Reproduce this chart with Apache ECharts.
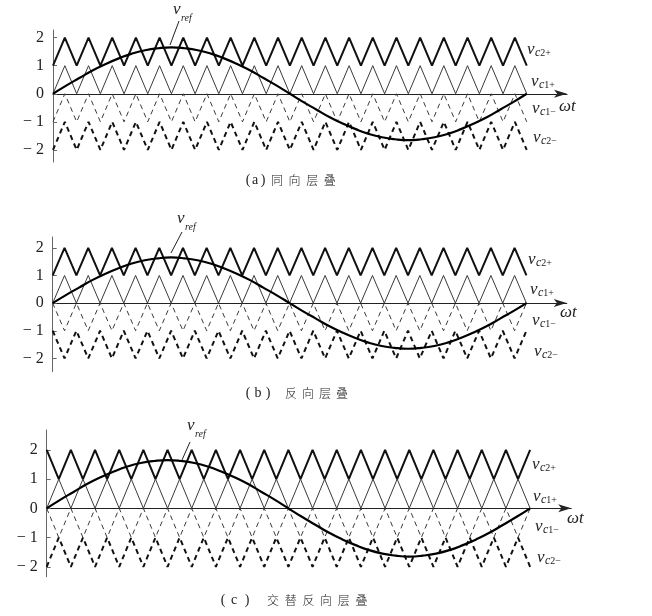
<!DOCTYPE html>
<html>
<head>
<meta charset="utf-8">
<script src="https://cdn.jsdelivr.net/npm/echarts@6/dist/echarts.min.js"></script>
<style>
  html, body { margin: 0; padding: 0; background: #fff; }
  #chart { width: 652px; height: 616px; }
</style>
</head>
<body>
<div id="chart"></div>
<script>
// carrier vertices, one value per half carrier period (20 periods -> 41 points)
const tri12 = [1, 2, 1, 2, 1, 2, 1, 2, 1, 2, 1, 2, 1, 2, 1, 2, 1, 2, 1, 2,
  1, 2, 1, 2, 1, 2, 1, 2, 1, 2, 1, 2, 1, 2, 1, 2, 1, 2, 1, 2, 1]
const tri21 = [2, 1, 2, 1, 2, 1, 2, 1, 2, 1, 2, 1, 2, 1, 2, 1, 2, 1, 2, 1,
  2, 1, 2, 1, 2, 1, 2, 1, 2, 1, 2, 1, 2, 1, 2, 1, 2, 1, 2, 1, 2]
const tri01 = [0, 1, 0, 1, 0, 1, 0, 1, 0, 1, 0, 1, 0, 1, 0, 1, 0, 1, 0, 1,
  0, 1, 0, 1, 0, 1, 0, 1, 0, 1, 0, 1, 0, 1, 0, 1, 0, 1, 0, 1, 0]
const triN10 = [-1, 0, -1, 0, -1, 0, -1, 0, -1, 0, -1, 0, -1, 0, -1, 0, -1, 0, -1, 0,
  -1, 0, -1, 0, -1, 0, -1, 0, -1, 0, -1, 0, -1, 0, -1, 0, -1, 0, -1, 0, -1]
const tri0N1 = [0, -1, 0, -1, 0, -1, 0, -1, 0, -1, 0, -1, 0, -1, 0, -1, 0, -1, 0, -1,
  0, -1, 0, -1, 0, -1, 0, -1, 0, -1, 0, -1, 0, -1, 0, -1, 0, -1, 0, -1, 0]
const triN2N1 = [-2, -1, -2, -1, -2, -1, -2, -1, -2, -1, -2, -1, -2, -1, -2, -1, -2, -1, -2, -1,
  -2, -1, -2, -1, -2, -1, -2, -1, -2, -1, -2, -1, -2, -1, -2, -1, -2, -1, -2, -1, -2]
const triN1N2 = [-1, -2, -1, -2, -1, -2, -1, -2, -1, -2, -1, -2, -1, -2, -1, -2, -1, -2, -1, -2,
  -1, -2, -1, -2, -1, -2, -1, -2, -1, -2, -1, -2, -1, -2, -1, -2, -1, -2, -1, -2, -1]

// reference wave, read every 10 degrees over one fundamental period
const vref = [0, 0.29, 0.56, 0.83, 1.06, 1.26, 1.43, 1.55, 1.62, 1.65, 1.62, 1.55, 1.43, 1.26, 1.06, 0.83, 0.56, 0.29,
  0, -0.29, -0.56, -0.83, -1.06, -1.26, -1.43, -1.55, -1.62, -1.65, -1.62, -1.55, -1.43, -1.26, -1.06, -0.83, -0.56, -0.29, 0]

const yTicks = [-2, -1, 0, 1, 2]
const carrierSubs = ['2+', '1+', '1\u2212', '2\u2212']

// vc2+, vc1+, vc1-, vc2-
const pdCarriers = [tri12, tri01, triN10, triN2N1]
const podCarriers = [tri12, tri01, tri0N1, triN1N2]
const apodCarriers = [tri21, tri01, tri0N1, triN2N1]
const captions = [['(', 'a', ')', '同', '向', '层', '叠'], ['(', 'b', ')', '反', '向', '层', '叠'], ['(', 'c', ')', '交', '替', '反', '向', '层', '叠']]

const halfT = tri12.map((_, i) => i / 2)
const refT = vref.map((_, i) => i * 20 / 36)

const panels = [
  { carriers: pdCarriers, left: 53, top: 30, width: 514, height: 132, ymin: -2.43, ymax: 2.27,
    labels: [[527, 50], [531, 82], [532, 109], [533, 138]], wt: [559, 107], ref: [173, 10], lead: [170, 45, 179, 21],
    cap: { y: 180, par: [248, 255, 263], cjk: 271, pitch: 17.6 } },
  { carriers: podCarriers, left: 52.7, top: 237, width: 514, height: 134.7, ymin: -2.48, ymax: 2.39,
    labels: [[528, 260], [530, 290], [532, 321], [534, 352]], wt: [560, 313], ref: [177, 219], lead: [171, 253, 182, 232],
    cap: { y: 393, par: [248, 258, 268], cjk: 285, pitch: 17 } },
  { carriers: apodCarriers, left: 46.7, top: 430, width: 524.5, height: 146.7, ymin: -2.34, ymax: 2.68,
    labels: [[532, 465], [533, 497], [535, 527], [537, 558]], wt: [567, 519], ref: [187, 426], lead: [182, 460, 190, 442],
    cap: { y: 600, par: [223, 234, 247], cjk: 267, pitch: 17.7 } }
]

const carrierStyles = [
  { width: 2, type: 'solid', color: '#111' },
  { width: 1, type: 'solid', color: '#3a3a3a' },
  { width: 1, type: [5, 4], color: '#3a3a3a' },
  { width: 2, type: [5, 4], color: '#111' }
]

const serif = '"Liberation Serif", "DejaVu Serif", serif'

function text (x, y, str, font, align, rich) {
  return {
    type: 'text', x, y, z: 10,
    style: { text: str, font, fill: '#222', align: align || 'left', verticalAlign: 'middle',
      textAlign: align || 'left', textVerticalAlign: 'middle', rich }
  }
}

const subRich = {
  i: { fontFamily: serif, fontStyle: 'italic', fontSize: 12, color: '#222' },
  n: { fontFamily: serif, fontSize: 10, color: '#222' }
}

const grid = []
const xAxis = []
const yAxis = []
const series = []
const graphic = []

panels.forEach((p, k) => {
  grid.push({ left: p.left, top: p.top, width: p.width, height: p.height, containLabel: false, outerBoundsMode: 'none' })
  xAxis.push({
    gridIndex: k, type: 'value', min: 0, max: 21.7,
    axisLine: { onZero: true, symbol: ['none', 'arrow'], symbolSize: [6, 13], lineStyle: { color: '#222', width: 1.2 } },
    axisTick: { show: false }, axisLabel: { show: false }, splitLine: { show: false }
  })
  yAxis.push({
    gridIndex: k, type: 'value', min: p.ymin, max: p.ymax,
    axisLine: { show: true, lineStyle: { color: '#666', width: 1 } },
    axisTick: { show: true, inside: true, length: 4, customValues: yTicks, lineStyle: { color: '#666' } },
    axisLabel: {
      customValues: yTicks, margin: 9, color: '#222', fontFamily: serif, fontSize: 16,
      formatter: v => v < 0 ? '\u2212 ' + Math.abs(v) : String(v)
    },
    splitLine: { show: false }
  })
  p.carriers.forEach((vals, i) => {
    series.push({
      type: 'line', xAxisIndex: k, yAxisIndex: k, symbol: 'none', animation: false, silent: true,
      lineStyle: carrierStyles[i],
      data: vals.map((v, j) => [halfT[j], v])
    })
  })
  series.push({
    type: 'line', xAxisIndex: k, yAxisIndex: k, symbol: 'none', animation: false, silent: true, smooth: true, z: 5,
    lineStyle: { width: 2.2, color: '#000' },
    data: vref.map((v, j) => [refT[j], v])
  })

  // carrier labels
  p.labels.forEach((pos, i) => {
    graphic.push(text(pos[0], pos[1], 'v', 'italic 17px ' + serif))
    graphic.push(text(pos[0] + 8, pos[1] + 3, '{i|c}{n|' + carrierSubs[i] + '}', '11px ' + serif, 'left', subRich))
  })
  graphic.push(text(p.wt[0], p.wt[1], '\u03c9t', 'italic 17px ' + serif))
  graphic.push(text(p.ref[0], p.ref[1], 'v', 'italic 17px ' + serif))
  graphic.push(text(p.ref[0] + 8, p.ref[1] + 8, 'ref', 'italic 10px ' + serif))
  graphic.push({
    type: 'line', z: 10,
    shape: { x1: p.lead[0], y1: p.lead[1], x2: p.lead[2], y2: p.lead[3] },
    style: { stroke: '#222', lineWidth: 1 }
  })

  // caption
  const cap = captions[k]
  cap.slice(0, 3).forEach((ch, i) => {
    graphic.push(text(p.cap.par[i], p.cap.y, ch, '14px ' + serif, 'center'))
  })
  cap.slice(3).forEach((ch, i) => {
    graphic.push(text(p.cap.cjk + i * p.cap.pitch, p.cap.y, ch, '300 12px "Noto Sans CJK SC"', 'left'))
  })
})

const chart = echarts.init(document.getElementById('chart'))
chart.setOption({
  backgroundColor: '#fff',
  animation: false,
  grid, xAxis, yAxis, series,
  graphic: { elements: graphic }
})
</script>
</body>
</html>
